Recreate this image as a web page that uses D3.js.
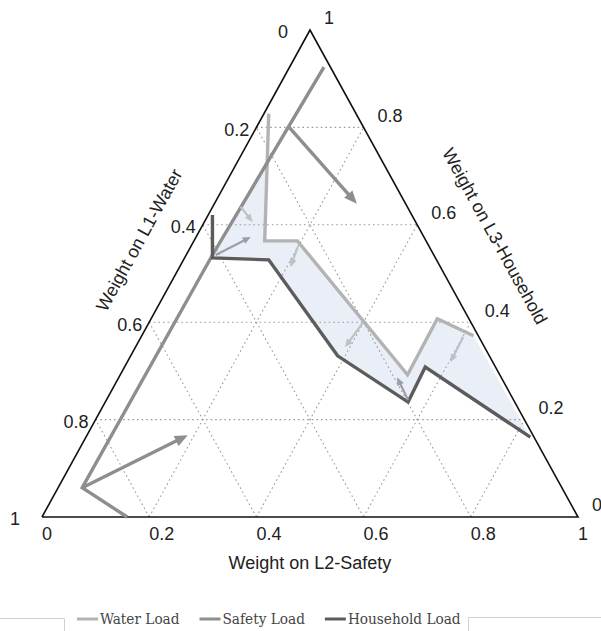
<!DOCTYPE html>
<html><head><meta charset="utf-8">
<script src="https://cdn.jsdelivr.net/npm/d3@7"></script>
<style>body{margin:0;background:#fff}</style>
</head><body>
<svg id="c" width="601" height="631" xmlns="http://www.w3.org/2000/svg"></svg>
<script>
// ---------- data (ternary points as [L1-Water, L2-Safety, L3-Household]) ----------
const tickValues = [0, 0.2, 0.4, 0.6, 0.8, 1];
const tickLabels = ["0", "0.2", "0.4", "0.6", "0.8", "1"];
const gridValues = [0.2, 0.4, 0.6, 0.8];
const axisTitles = ["Weight on L1-Water", "Weight on L2-Safety", "Weight on L3-Household"];
const seriesNames = ["Water Load", "Safety Load", "Household Load"];

const waterLoad = [[0.163,0.009,0.828],[0.301,0.132,0.567],[0.240,0.193,0.567],[0.172,0.536,0.292],[0.059,0.534,0.407],[0.009,0.619,0.372]];
const safetyLoad = [[0.841,0.159,0.000],[0.895,0.045,0.060],[0.413,0.049,0.538],[0.012,0.064,0.924]];
const householdLoad = [[0.372,0.008,0.620],[0.416,0.052,0.532],[0.313,0.159,0.528],[0.283,0.386,0.331],[0.199,0.565,0.236],[0.131,0.561,0.308],[0.007,0.829,0.164]];

// shifts of the optimum (from -> to)
const bigArrows = [
  [[0.139,0.060,0.801],[0.091,0.266,0.643]],
  [[0.895,0.045,0.060],[0.644,0.188,0.168]]
];
const smallArrowsLight = [
  [[0.311,0.052,0.637],[0.304,0.090,0.606]],
  [[0.246,0.200,0.554],[0.280,0.207,0.513]],
  [[0.203,0.399,0.398],[0.260,0.391,0.349]],
  [[0.029,0.601,0.370],[0.079,0.603,0.318]]
];
const smallArrowsMid = [
  [[0.407,0.055,0.538],[0.323,0.102,0.575]],
  [[0.197,0.563,0.240],[0.194,0.519,0.287]]
];

// ---------- layout ----------
const BL = {x:42, y:517}, BR = {x:578, y:517}, TOP = {x:310, y:30};
const colors = {water:"#b3b3b3", safety:"#8e8e8e", household:"#5c5c5c", fill:"#eaeff7",
                arrowLight:"#bcc0c7", arrowMid:"#9a9ea6"};

const svg = d3.select("#c");
const xL2 = d3.scaleLinear().domain([0,1]).range([BL.x, BR.x]);
const yL3 = d3.scaleLinear().domain([0,1]).range([BL.y, TOP.y]);
const xShiftL3 = d3.scaleLinear().domain([0,1]).range([0, TOP.x - BL.x]);
function P(d){ return [xL2(d[1]) + xShiftL3(d[2]), yL3(d[2])]; }
const line = d3.line().x(d=>P(d)[0]).y(d=>P(d)[1]);

// ---------- fill band between water and household ----------
function intersect(a1,a2,b1,b2){
  const [x1,y1]=a1,[x2,y2]=a2,[x3,y3]=b1,[x4,y4]=b2;
  const den=(x1-x2)*(y3-y4)-(y1-y2)*(x3-x4);
  const t=((x1-x3)*(y3-y4)-(y1-y3)*(x3-x4))/den;
  return [x1+t*(x2-x1), y1+t*(y2-y1)];
}
const cross = intersect(P(safetyLoad[2]),P(safetyLoad[3]),P(waterLoad[0]),P(waterLoad[1]));
const band = [cross].concat(waterLoad.slice(1).map(P)).concat(householdLoad.slice(1).reverse().map(P));
svg.append("path").attr("d", "M"+band.map(p=>p.join(",")).join("L")+"Z")
  .attr("fill", colors.fill).attr("stroke","none");

// ---------- grid ----------
const g = svg.append("g").attr("stroke","#9a9a9a").attr("stroke-width",1.1)
  .attr("stroke-dasharray","1.6,3").attr("fill","none");
gridValues.forEach(v=>{
  [[[1-v,0,v],[0,1-v,v]], [[v,1-v,0],[v,0,1-v]], [[1-v,v,0],[0,v,1-v]]].forEach(seg=>{
    g.append("path").attr("d", line(seg));
  });
});

// ---------- triangle ----------
svg.append("path").attr("d", line([[1,0,0],[0,1,0],[0,0,1],[1,0,0]]))
  .attr("fill","none").attr("stroke","#111").attr("stroke-width",1.6).attr("stroke-linejoin","miter");

// ---------- series ----------
[[waterLoad,colors.water],[safetyLoad,colors.safety],[householdLoad,colors.household]].forEach(([d,c])=>{
  svg.append("path").attr("d", line(d)).attr("fill","none").attr("stroke",c)
    .attr("stroke-width",3.4).attr("stroke-linejoin","miter");
});

// ---------- arrows ----------
function arrow(a, color, w, headL, headW){
  const p0=P(a[0]), p1=P(a[1]);
  const dx=p1[0]-p0[0], dy=p1[1]-p0[1], L=Math.hypot(dx,dy), ux=dx/L, uy=dy/L;
  const bx=p1[0]-ux*headL, by=p1[1]-uy*headL;
  svg.append("line").attr("x1",p0[0]).attr("y1",p0[1]).attr("x2",bx+ux*1).attr("y2",by+uy*1)
    .attr("stroke",color).attr("stroke-width",w);
  svg.append("path").attr("d",`M${p1[0]},${p1[1]}L${bx-uy*headW/2},${by+ux*headW/2}L${bx+uy*headW/2},${by-ux*headW/2}Z`)
    .attr("fill",color);
}
bigArrows.forEach(a=>arrow(a, colors.safety, 3.4, 13, 11));
smallArrowsLight.forEach(a=>arrow(a, colors.arrowLight, 2.2, 8, 7));
smallArrowsMid.forEach(a=>arrow(a, colors.arrowMid, 2.2, 8, 7));

// ---------- tick labels ----------
const tl = svg.append("g").attr("font-family","'Liberation Sans', Arial, sans-serif").attr("font-size",18).attr("fill","#222");
tickValues.forEach((v,i)=>{
  // bottom: L2-Safety
  tl.append("text").attr("x", xL2(v)).attr("y", BL.y+23).attr("text-anchor","start").text(tickLabels[i]);
  // left: L1-Water (L2 = 0)
  const pl = P([v,0,1-v]);
  const extra = (v===0||v===1) ? 15 : 0;
  tl.append("text").attr("x", pl[0]-7-extra).attr("y", pl[1]+2).attr("dy","0.35em")
    .attr("text-anchor","end").text(tickLabels[i]);
  // right: L3-Household (L1 = 0)
  const pr = P([0,1-v,v]);
  tl.append("text").attr("x", pr[0]+14).attr("y", pr[1]-12).attr("dy","0.35em")
    .attr("text-anchor","start").text(tickLabels[i]);
});

// ---------- axis titles ----------
const ang = Math.atan2(BL.y-TOP.y, TOP.x-BL.x)*180/Math.PI;
const at = svg.append("g").attr("font-family","'Liberation Sans', Arial, sans-serif").attr("font-size",18).attr("fill","#222").attr("text-anchor","middle");
at.append("text").attr("transform",`translate(139,240) rotate(${-ang})`).attr("dy","0.35em").text(axisTitles[0]);
at.append("text").attr("x",(BL.x+BR.x)/2).attr("y",BL.y+46).attr("dy","0.35em").text(axisTitles[1]);
at.append("text").attr("transform",`translate(495,236) rotate(${ang})`).attr("dy","0.35em").text(axisTitles[2]);

// ---------- legend ----------
const lg = svg.append("g");
lg.append("path").attr("d","M0,618.5H64.5V631").attr("stroke","#d0d0d0").attr("fill","none");
lg.append("path").attr("d","M601,617.5H468.5V631").attr("stroke","#d0d0d0").attr("fill","none");
let lx = 77;
[colors.water, colors.safety, colors.household].forEach((c,i)=>{
  lg.append("line").attr("x1",lx).attr("x2",lx+21).attr("y1",619).attr("y2",619).attr("stroke",c).attr("stroke-width",3);
  const t = lg.append("text").attr("x",lx+23).attr("y",619).attr("dy","0.35em")
    .attr("font-family","'DejaVu Serif', serif").attr("font-size",15.2).attr("fill","#444")
    .attr("font-stretch","condensed").text(seriesNames[i]);
  lx += 23 + t.node().getComputedTextLength() + 20;
});
</script>
</body></html>
